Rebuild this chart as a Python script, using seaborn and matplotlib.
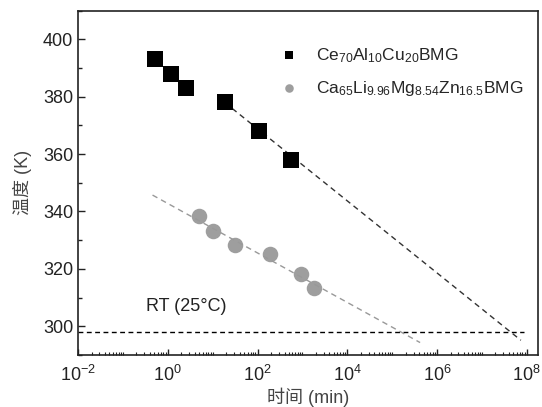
import matplotlib
matplotlib.use("Agg")
import matplotlib.pyplot as plt
import matplotlib.ticker as mticker
import seaborn as sns
import numpy as np
import pandas as pd

# data
ce_time = [0.51, 1.15, 2.6, 18.5, 110, 570]
ce_temp = [393, 388, 383, 378, 368, 358]
ca_time = [5.0, 10.2, 30.8, 185, 935, 1780]
ca_temp = [338.3, 333.3, 328.3, 325.2, 318.3, 313.4]

# fitted (extrapolated) lines, endpoints
ce_fit_time = [18.5, 7.4e7]
ce_fit_temp = [378, 295.1]
ca_fit_time = [0.457, 4.2e5]
ca_fit_temp = [345.7, 294.3]

rt_time = [0.01, 8.5e7]
rt_temp = [298.15, 298.15]

xticks = [1e-2, 1e0, 1e2, 1e4, 1e6, 1e8]
yticks = [300, 320, 340, 360, 380, 400]
ce_label = r"$\mathregular{Ce_{70}Al_{10}Cu_{20}BMG}$"
ca_label = r"$\mathregular{Ca_{65}Li_{9.96}Mg_{8.54}Zn_{16.5}BMG}$"

sns.set_style("white", {"xtick.bottom": True, "ytick.left": True})
plt.rcParams['font.family'] = ['Liberation Sans', 'Noto Sans CJK SC', 'DejaVu Sans']
plt.rcParams['mathtext.fontset'] = 'custom'
plt.rcParams['mathtext.rm'] = 'Liberation Sans'

fig, ax = plt.subplots(figsize=(5.42, 4.07), dpi=100)
fig.subplots_adjust(left=0.144, right=0.992, top=0.974, bottom=0.128)

df_ce = pd.DataFrame({"t": ce_time, "T": ce_temp})
df_ca = pd.DataFrame({"t": ca_time, "T": ca_temp})

sns.lineplot(x=rt_time, y=rt_temp, ax=ax, color="black", lw=1.0,
             linestyle=(0, (3.5, 2.5)), zorder=1)
sns.lineplot(x=ce_fit_time, y=ce_fit_temp, ax=ax, color="#333333", lw=1.0,
             linestyle=(0, (4, 3)), zorder=1)
sns.lineplot(x=ca_fit_time, y=ca_fit_temp, ax=ax, color="#999999", lw=1.0,
             linestyle=(0, (4, 3)), zorder=1)

sns.scatterplot(data=df_ce, x="t", y="T", ax=ax, marker="s", s=120,
                color="black", edgecolor="black", linewidth=0,
                label=ce_label, zorder=3)
sns.scatterplot(data=df_ca, x="t", y="T", ax=ax, marker="o", s=125,
                color="#999999", edgecolor="#999999", linewidth=0,
                alpha=0.95, label=ca_label, zorder=3)

ax.set_xscale("log")
ax.set_xlim(1e-2, 1.75e8)
ax.set_ylim(290, 410)
ax.set_xticks(xticks)
ax.xaxis.set_minor_locator(mticker.LogLocator(base=10, subs=np.arange(1, 10), numticks=50))
ax.xaxis.set_minor_formatter(mticker.NullFormatter())
ax.set_yticks(yticks)
ax.yaxis.set_minor_locator(mticker.MultipleLocator(10))

ax.tick_params(axis="both", which="major", direction="in", labelsize=13,
               width=1.0, colors="#222222")
ax.tick_params(axis="y", which="major", length=5)
ax.tick_params(axis="y", which="minor", left=True, direction="in", length=3, width=1.0,
               color="#222222")
ax.tick_params(axis="x", which="major", length=4, pad=7)
ax.tick_params(axis="x", which="minor", bottom=True, direction="in", length=2.2, width=0.8,
               color="#222222")

for sp in ax.spines.values():
    sp.set_linewidth(1.2)
    sp.set_color("#222222")

ax.set_xlabel("时间 (min)", fontsize=13, color="#444444", labelpad=2)
ax.set_ylabel("温度 (K)", fontsize=13, color="#444444", labelpad=8)

ax.text(0.32, 306.8, "RT (25°C)", fontsize=13, color="#222222", va="center", ha="left")

leg = ax.legend(loc="upper left", bbox_to_anchor=(0.439, 0.897), frameon=False,
                fontsize=12.5, markerscale=0.55, handlelength=1.05, handletextpad=1.05,
                labelspacing=0.8, borderaxespad=0.0, borderpad=0.0)

fig.savefig("out.png", dpi=100)
